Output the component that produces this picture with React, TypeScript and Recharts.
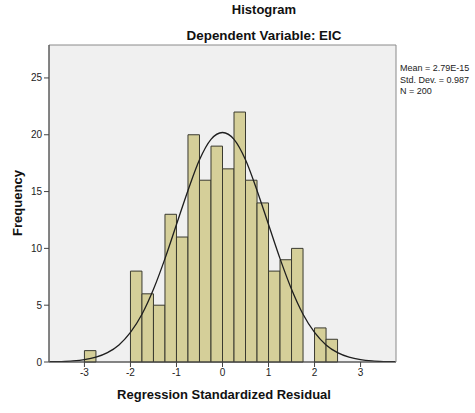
import { ComposedChart, Line, XAxis, YAxis, ReferenceArea } from "recharts";

// histogram bins (left edge, width 0.25) and counts
const binStarts = [-3, -2, -1.75, -1.5, -1.25, -1, -0.75, -0.5, -0.25, 0, 0.25, 0.5, 0.75, 1, 1.25, 1.5, 2, 2.25];
const binCounts = [1, 8, 6, 5, 13, 11, 20, 16, 19, 17, 22, 16, 14, 8, 9, 10, 3, 2];
const BIN_W = 0.25;

// normal curve
const curveX = [-3.75, -3.5, -3.25, -3, -2.75, -2.5, -2.25, -2, -1.75, -1.5, -1.25, -1, -0.75, -0.5, -0.25, 0,
  0.25, 0.5, 0.75, 1, 1.25, 1.5, 1.75, 2, 2.25, 2.5, 2.75, 3, 3.25, 3.5, 3.75];
const curveY = [0.02, 0.04, 0.09, 0.2, 0.42, 0.82, 1.5, 2.6, 4.2, 6.4, 9.1, 12.1, 15.1, 17.8, 19.6, 20.2,
  19.6, 17.8, 15.1, 12.1, 9.1, 6.4, 4.2, 2.6, 1.5, 0.82, 0.42, 0.2, 0.09, 0.04, 0.02];

const xTicks = [-3, -2, -1, 0, 1, 2, 3];
const yTicks = [0, 5, 10, 15, 20, 25];
const stats = ["Mean = 2.79E-15", "Std. Dev. = 0.987", "N = 200"];

const X_MIN = -3.77;
const X_MAX = 3.77;
const Y_MAX = 27.9;

const curveData = curveX.map((x, i) => ({ x, y: curveY[i] }));

const font = "'Liberation Sans', Arial, sans-serif";
const tickStyle = { fontSize: 10, fill: "#222", fontFamily: font };

export default function App() {
  return (
    <div style={{ position: "absolute", left: 0, top: 0, width: 475, height: 413, background: "#fff" }}>
      <ComposedChart
        width={475}
        height={413}
        data={curveData}
        margin={{ top: 45, right: 79, left: 0, bottom: 0 }}
      >
        <XAxis
          dataKey="x"
          type="number"
          domain={[X_MIN, X_MAX]}
          ticks={xTicks}
          allowDataOverflow
          height={51}
          tickSize={5}
          stroke="#444"
          tick={tickStyle}
        />
        <YAxis
          type="number"
          domain={[0, Y_MAX]}
          ticks={yTicks}
          allowDataOverflow
          width={49}
          tickSize={5}
          stroke="#444"
          tick={tickStyle}
        />
        <ReferenceArea
          x1={X_MIN}
          x2={X_MAX}
          y1={0}
          y2={Y_MAX}
          fill="#f0f0f0"
          fillOpacity={1}
          stroke="#8a8a8a"
          strokeWidth={1}
        />
        {binStarts.map((s, i) => (
          <ReferenceArea
            key={s}
            x1={s}
            x2={s + BIN_W}
            y1={0}
            y2={binCounts[i]}
            fill="#d5cf99"
            fillOpacity={1}
            stroke="#3a3a30"
            strokeWidth={1}
          />
        ))}
        <Line
          dataKey="y"
          type="monotone"
          stroke="#1e1e1e"
          strokeWidth={1.3}
          dot={false}
          activeDot={false}
          isAnimationActive={false}
        />
      </ComposedChart>
      <svg
        width={475}
        height={413}
        style={{ position: "absolute", left: 0, top: 0, pointerEvents: "none" }}
        fontFamily={font}
      >
        <text x={264} y={14} textAnchor="middle" fontSize={13} fontWeight="bold" fill="#111">
          Histogram
        </text>
        <text x={264} y={40} textAnchor="middle" fontSize={13.4} fontWeight="bold" fill="#111">
          Dependent Variable: EIC
        </text>
        <text
          x={22}
          y={203}
          textAnchor="middle"
          fontSize={13}
          fontWeight="bold"
          fill="#111"
          transform="rotate(-90 22 203)"
        >
          Frequency
        </text>
        <text x={224} y={399} textAnchor="middle" fontSize={13} fontWeight="bold" fill="#111">
          Regression Standardized Residual
        </text>
        {stats.map((s, i) => (
          <text key={s} x={400} y={71 + i * 11.5} fontSize={9} fill="#222">
            {s}
          </text>
        ))}
      </svg>
    </div>
  );
}
